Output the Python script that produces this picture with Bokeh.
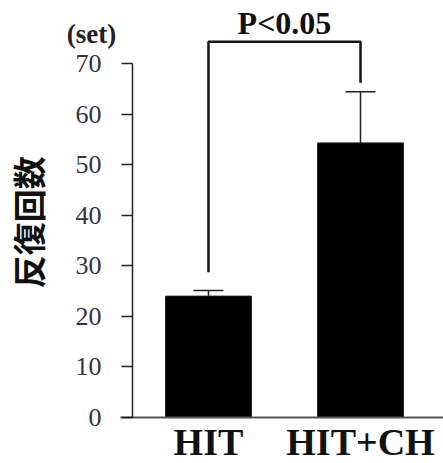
from bokeh.plotting import figure
from bokeh.models import Range1d, FixedTicker, ColumnDataSource, Whisker, TeeHead, Label
from bokeh.embed import file_html
from bokeh.resources import INLINE
import math

categories = ["HIT", "HIT+CH"]
means = [24.0, 54.3]
errors = [1.1, 10.1]
y_ticks = [0, 10, 20, 30, 40, 50, 60, 70]
bracket_y = [28.7, 74.3, 74.3, 66.2]
sig_text = "P<0.05"
unit_text = "(set)"
y_title = "反復回数"

xs = [i + 0.5 for i in range(len(categories))]
upper = [m + e for m, e in zip(means, errors)]

p = figure(width=443, height=463, output_backend="svg", toolbar_location=None,
           x_range=Range1d(-0.868, 2.046), y_range=Range1d(-9.1, 82.46),
           min_border_left=0, min_border_right=0, min_border_top=0, min_border_bottom=0)
p.outline_line_color = None
p.xgrid.visible = False
p.ygrid.visible = False
p.background_fill_color = "white"

src = ColumnDataSource(dict(x=xs, top=means, upper=upper))
p.vbar(x="x", top="top", bottom=0, width=0.565, source=src, fill_color="black", line_color="#222222", line_width=1)

w = Whisker(base="x", lower="top", upper="upper", source=src, line_color="#222222", line_width=1.5,
            lower_head=None, upper_head=TeeHead(size=30, line_color="#222222", line_width=1.5))
p.add_layout(w)

bx = [xs[0], xs[0], xs[1], xs[1]]
p.line(bx, bracket_y, line_color="#111111", line_width=2.5)

p.add_layout(Label(x=(xs[0] + xs[1]) / 2, y=78.1, text=sig_text, text_align="center",
                   text_baseline="alphabetic", text_font="Liberation Serif",
                   text_font_style="bold", text_font_size="32px", text_color="#111111"))
p.add_layout(Label(x=-0.27, y=75.9, text=unit_text, text_align="center",
                   text_baseline="alphabetic", text_font="Liberation Serif",
                   text_font_style="bold", text_font_size="27px", text_color="#222222"))
p.add_layout(Label(x=-0.686, y=38.6, text=y_title, angle=math.pi / 2, text_align="center",
                   text_baseline="middle", text_font="Noto Sans CJK JP",
                   text_font_style="bold", text_font_size="33px", text_color="#111111"))

ya = p.yaxis[0]
ya.fixed_location = 0
ya.ticker = FixedTicker(ticks=y_ticks)
ya.bounds = (0, 70)
ya.major_tick_out = 11
ya.major_tick_in = 0
ya.minor_tick_line_color = None
ya.axis_line_color = "#222222"
ya.axis_line_width = 1.5
ya.major_tick_line_color = "#222222"
ya.major_tick_line_width = 1.5
ya.major_label_standoff = 20
ya.major_label_text_font = "Liberation Serif"
ya.major_label_text_font_size = "26px"
ya.major_label_text_color = "#333340"

xa = p.xaxis[0]
xa.fixed_location = 0
xa.ticker = FixedTicker(ticks=xs)
xa.bounds = (-0.079, 2.046)
xa.major_label_overrides = {x: c for x, c in zip(xs, categories)}
xa.major_tick_out = 0
xa.major_tick_in = 0
xa.minor_tick_line_color = None
xa.axis_line_color = "#555555"
xa.axis_line_width = 2
xa.major_label_standoff = 4
xa.major_label_text_font = "Liberation Serif"
xa.major_label_text_font_style = "bold"
xa.major_label_text_font_size = "38px"
xa.major_label_text_color = "#111111"

open("out.html", "w").write(file_html(p, INLINE))
